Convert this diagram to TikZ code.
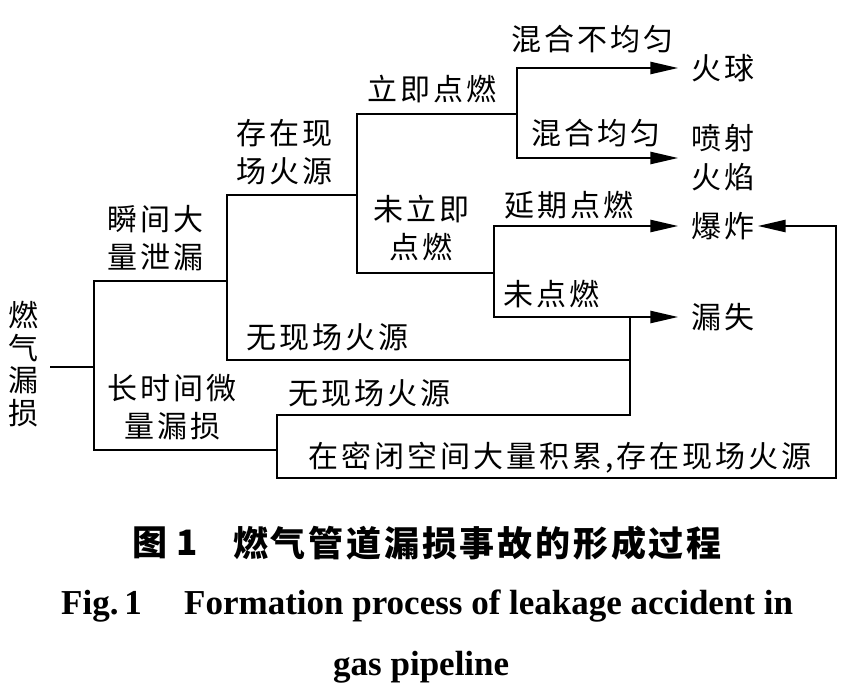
\documentclass[tikz,border=0pt]{standalone}
\usepackage{fontspec}
\usetikzlibrary{arrows.meta}
\newfontfamily\cjk[LetterSpace=10]{Noto Sans CJK SC}
\newfontfamily\cjkcap[LetterSpace=8]{Noto Sans CJK SC}
\newfontfamily\engfont{Liberation Serif}
\tikzset{
  wire/.style={line width=2.6pt, line cap=rect, line join=miter},
  arr/.style={wire, -{Triangle[length=28pt,width=12pt]}},
  lbl/.style={font=\cjk\fontsize{30}{38}\selectfont, inner sep=0pt, align=center},
  res/.style={font=\cjk\fontsize{30}{39}\selectfont, inner ysep=0pt, inner xsep=13pt, align=center},
  srcbox/.style={font=\cjk\fontsize{30}{32.5}\selectfont, inner ysep=0pt, inner xsep=12pt, align=center},
  capcn/.style={font=\cjkcap\bfseries\fontsize{35}{35}\selectfont, inner sep=0pt, anchor=west},
  capen/.style={font=\engfont\bfseries\fontsize{35}{35}\selectfont, inner sep=0pt, anchor=base west}
}
\begin{document}
\begin{tikzpicture}[x=1pt,y=-1pt]
\path[use as bounding box, fill=white] (0,0) rectangle (857,696);

% source and result nodes
\node[srcbox] (src) at (24,364) {燃\\气\\漏\\损};
\node[res] (qiu) at (723,68) {火球};
\node[res] (pen) at (723,158) {喷射\\火焰};
\node[res] (bz)  at (723,226) {爆炸};
\node[res] (ls)  at (723,317) {漏失};

% junction points
\coordinate (j1) at (94,367);
\coordinate (a1) at (94,281);
\coordinate (b1) at (94,450);
\coordinate (c0) at (227,281);
\coordinate (c1) at (227,195);
\coordinate (c2) at (227,360);
\coordinate (d0) at (357,195);
\coordinate (d1) at (357,114);
\coordinate (d2) at (357,273);
\coordinate (e0) at (517,114);
\coordinate (e1) at (517,68);
\coordinate (e2) at (517,158);
\coordinate (f0) at (494,273);
\coordinate (f1) at (494,226);
\coordinate (f2) at (494,317);
\coordinate (g1) at (630,317);
\coordinate (g2) at (630,360);
\coordinate (g3) at (630,415);
\coordinate (h0) at (277,450);
\coordinate (h1) at (277,415);
\coordinate (h2) at (277,478);
\coordinate (k1) at (836,478);
\coordinate (k2) at (836,226);

% connectors
\draw[wire] (src.east |- j1) -- (j1);
\draw[wire] (c0) -- (a1) -- (b1) -- (h0);
\draw[wire] (d0) -- (c1) -- (c2) -- (g2);
\draw[wire] (e0) -- (d1) -- (d2) -- (f0);
\draw[arr] (e2) -- (e1) -- (qiu.west);
\draw[arr] (e2) -- (pen.west);
\draw[arr] (f2) -- (f1) -- (bz.west);
\draw[arr] (f2) -- (ls.west);
\draw[wire] (g1) -- (g3) -- (h1) -- (h2) -- (k1) -- (k2);
\draw[arr, shorten >=-10pt] (k2) -- (bz.east);

% labels
\node[lbl] (t1)  at (155,238) {瞬间大\\量泄漏};
\node[lbl] (t2)  at (284,152) {存在现\\场火源};
\node[lbl] (t3)  at (432,89)  {立即点燃};
\node[lbl] (t4)  at (421,228) {未立即\\点燃};
\node[lbl] (t5)  at (592,39)  {混合不均匀};
\node[lbl] (t6)  at (596,133) {混合均匀};
\node[lbl] (t7)  at (569,205) {延期点燃};
\node[lbl] (t8)  at (551,294) {未点燃};
\node[lbl] (t9)  at (327,337) {无现场火源};
\node[lbl] (t10) at (172,407) {长时间微\\量漏损};
\node[lbl] (t11) at (369,393) {无现场火源};
\node[lbl] (t12) at (560,458) {在密闭空间大量积累,存在现场火源};

% caption
\node[capcn] (capa) at (132,543) {图\hspace{9pt}1};
\node[capcn] (capb) at (233,543) {燃气管道漏损事故的形成过程};
\node[capen] (figa) at (61,614) {Fig.\,1};
\node[capen] (figb) at (184,614) {Formation process of leakage accident in};
\node[capen] (figc) at (333,675) {gas pipeline};
\end{tikzpicture}
\end{document}
